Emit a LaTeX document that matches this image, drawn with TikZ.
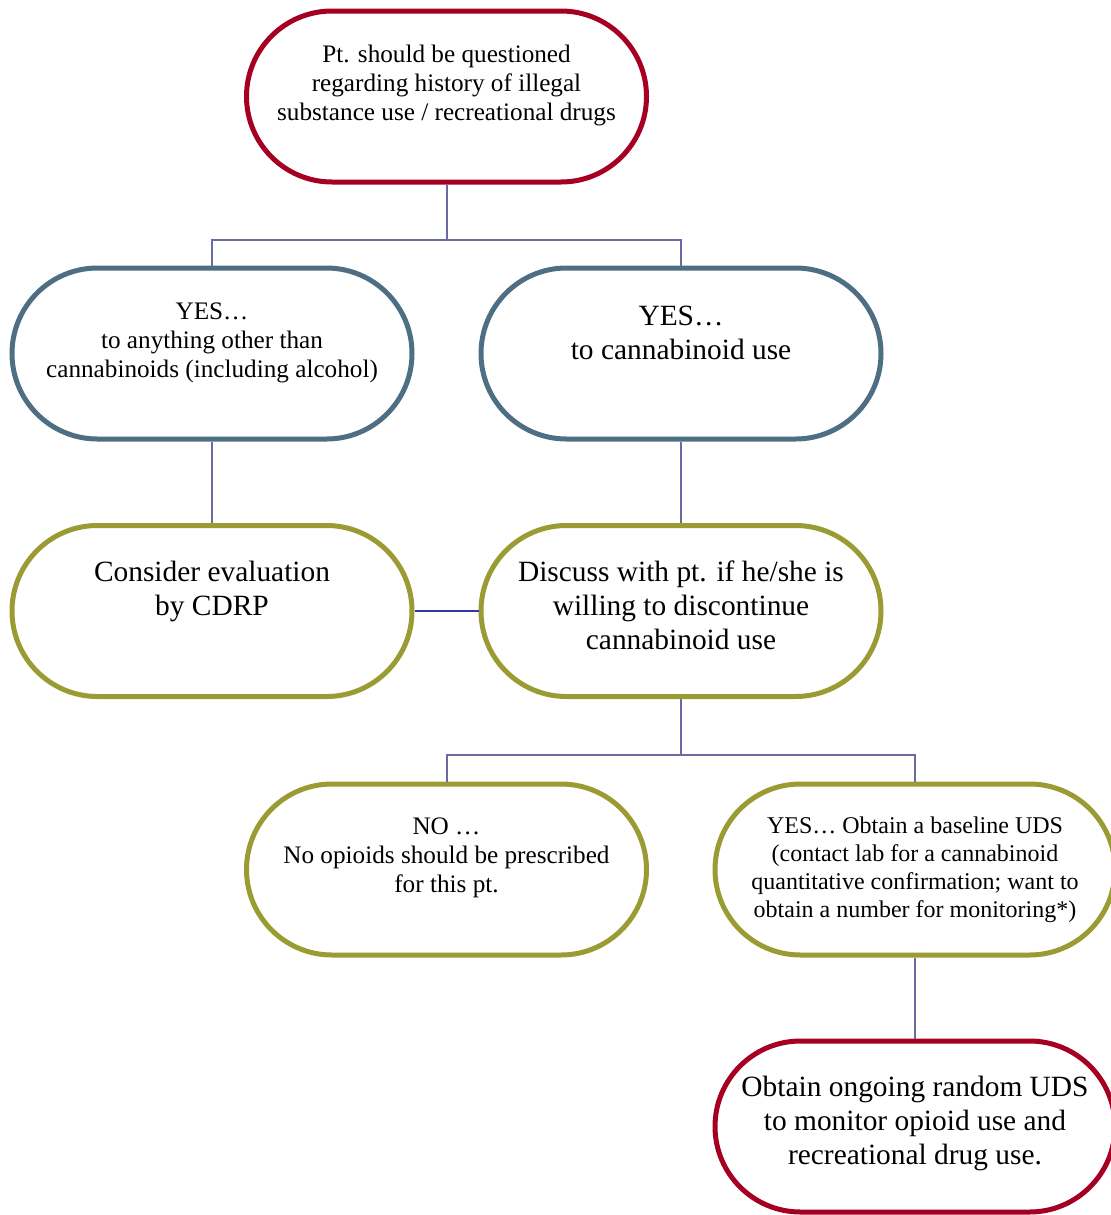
\documentclass[tikz,border=0pt]{standalone}
\usepackage{fontspec}
\setmainfont{Liberation Serif}
\usetikzlibrary{shapes.misc}

\definecolor{pillred}{HTML}{A50021}
\definecolor{pillblue}{HTML}{4E6E84}
\definecolor{pillolive}{HTML}{9B9B33}
\definecolor{treeline}{HTML}{6B6BA3}
\definecolor{sideline}{HTML}{3636A0}

\newcommand{\sizeA}{\fontsize{12.6pt}{14.5pt}\selectfont}
\newcommand{\sizeB}{\fontsize{14.7pt}{17pt}\selectfont}
\newcommand{\sizeC}{\fontsize{12pt}{14pt}\selectfont}

\tikzset{
  pill/.style={rounded rectangle, draw=#1, line width=2.5pt, fill=white,
    minimum width=200pt, minimum height=85.5pt, inner sep=0pt},
  pilltext/.style={align=center, inner sep=0pt},
  treelink/.style={draw=treeline, line width=1pt},
  sidelink/.style={draw=sideline, line width=1pt}
}

\begin{document}
\begin{tikzpicture}[x=0.5pt,y=-0.5pt]
\useasboundingbox (0,0) rectangle (1111,1215);

% boxes
\node[pill=pillred] (ask) at (446.5,96.5) {};
\node[pill=pillblue] (other) at (212,353.5) {};
\node[pill=pillblue] (canna) at (681,353.5) {};
\node[pill=pillolive] (cdrp) at (212,611) {};
\node[pill=pillolive] (discuss) at (681,611) {};
\node[pill=pillolive] (nope) at (446.5,869.5) {};
\node[pill=pillolive] (uds) at (915,869.5) {};
\node[pill=pillred] (monitor) at (915,1126.5) {};

% texts
\node[pilltext,font=\sizeA] (askt) at ([yshift=5.75pt]ask.center)
  {Pt. should be questioned\\regarding history of illegal\\substance use / recreational drugs};
\node[pilltext,font=\sizeA] (othert) at ([yshift=5.25pt]other.center)
  {YES…\\to anything other than\\cannabinoids (including alcohol)};
\node[pilltext,font=\sizeB] (cannat) at ([yshift=10.25pt]canna.center)
  {YES…\\to cannabinoid use};
\node[pilltext,font=\sizeB] (cdrpt) at ([yshift=10pt]cdrp.center)
  {Consider evaluation\\by CDRP};
\node[pilltext,font=\sizeB] (discusst) at ([yshift=3pt]discuss.center)
  {Discuss with pt. if he/she is\\willing to discontinue\\cannabinoid use};
\node[pilltext,font=\sizeA] (nopet) at ([yshift=5.75pt]nope.center)
  {NO …\\No opioids should be prescribed\\for this pt.};
\node[pilltext,font=\sizeC] (udst) at ([yshift=0pt]uds.center)
  {YES… Obtain a baseline UDS\\(contact lab for a cannabinoid\\quantitative confirmation; want to\\obtain a number for monitoring*)};
\node[pilltext,font=\sizeB] (monitort) at ([yshift=1.5pt]monitor.center)
  {Obtain ongoing random UDS\\to monitor opioid use and\\recreational drug use.};

% connectors
\coordinate (fork1) at (446.5,240);
\coordinate (fork2) at (681,755);
\draw[treelink] (ask.south) -- (fork1) -| (other.north);
\draw[treelink] (fork1) -| (canna.north);
\draw[treelink] (other.south) -- (cdrp.north);
\draw[treelink] (canna.south) -- (discuss.north);
\draw[sidelink] (cdrp.east) -- (discuss.west);
\draw[treelink] (discuss.south) -- (fork2) -| (nope.north);
\draw[treelink] (fork2) -| (uds.north);
\draw[treelink] (uds.south) -- (monitor.north);
\end{tikzpicture}
\end{document}
